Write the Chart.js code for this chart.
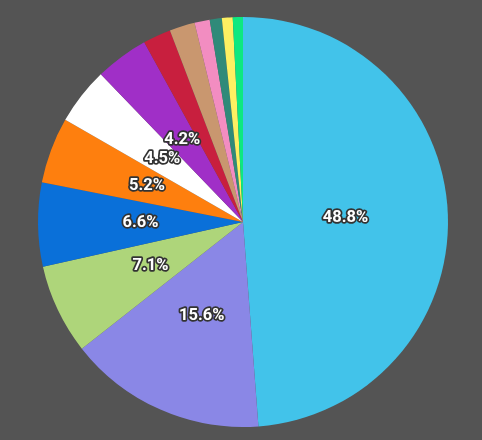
<!DOCTYPE html>
<html>
<head>
<meta charset="utf-8">
<script src="https://cdn.jsdelivr.net/npm/chart.js@4.4.1/dist/chart.umd.min.js"></script>
<style>
    html, body { margin: 0; padding: 0; background: #545454; }
    #wrap { width: 482px; height: 440px; }
</style>
</head>
<body>
<div id="wrap"><canvas id="pieChart"></canvas></div>
<script>
const labels = ['A', 'B', 'C', 'D', 'E', 'F', 'G', 'H', 'I', 'J', 'K', 'L', 'M'];
const values = [48.8, 15.6, 7.1, 6.6, 5.2, 4.5, 4.2, 2.2, 2.0, 1.2, 0.95, 0.85, 0.8];
const colors = ['#42c3ea', '#8a87e6', '#aed57a', '#0a70d9', '#fe7f0e', '#ffffff', '#a02fc7',
                '#c81f3e', '#c9976f', '#f28dc1', '#2f8a79', '#fdf062', '#0ee880'];
const minLabel = 3;

// percent labels in the middle of each slice, white with dark outline
const sliceLabels = {
    id: 'sliceLabels',
    afterDatasetsDraw(chart) {
        const ctx = chart.ctx;
        const meta = chart.getDatasetMeta(0);
        const total = values.reduce((a, b) => a + b, 0);
        ctx.save();
        ctx.font = 'bold 16.5px Roboto, "Liberation Sans", Arial, sans-serif';
        ctx.textAlign = 'center';
        ctx.textBaseline = 'middle';
        ctx.lineJoin = 'round';
        meta.data.forEach((arc, i) => {
            const pct = values[i] / total * 100;
            if (pct < minLabel) return;
            const p = arc.getCenterPoint();
            const txt = pct.toFixed(1) + '%';
            ctx.lineWidth = 3.5;
            ctx.strokeStyle = '#333333';
            ctx.strokeText(txt, p.x, p.y);
            ctx.fillStyle = '#ffffff';
            ctx.fillText(txt, p.x, p.y);
        });
        ctx.restore();
    }
};

new Chart(document.getElementById('pieChart'), {
    type: 'pie',
    data: {
        labels: labels,
        datasets: [{ data: values, backgroundColor: colors, borderWidth: 0 }]
    },
    options: {
        responsive: true,
        maintainAspectRatio: false,
        animation: false,
        layout: { padding: { top: 17, bottom: 13, left: 4, right: 0 } },
        plugins: { legend: { display: false }, tooltip: { enabled: false } }
    },
    plugins: [sliceLabels]
});
</script>
</body>
</html>
